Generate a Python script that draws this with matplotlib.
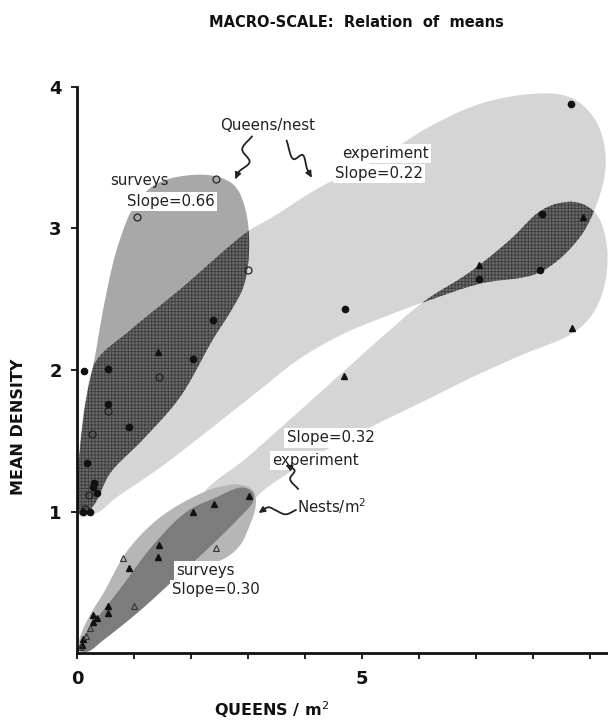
import numpy as np
import matplotlib
matplotlib.use("Agg")
import matplotlib.pyplot as plt
from matplotlib.patches import Polygon

plt.rcParams['font.family'] = ['DejaVu Sans']
plt.rcParams['hatch.linewidth'] = 0.6

# ---------------- data (queens per m2 vs mean density) ----------------
# Queens per nest, surveys (open circles)
qn_survey_x = [2.44, 1.05, 3.00, 1.44, 0.54, 0.26, 0.21, 0.14]
qn_survey_y = [3.35, 3.08, 2.71, 1.95, 1.71, 1.55, 1.12, 1.02]

# Queens per nest, experiment (filled circles)
qn_exp_x = [8.67, 4.70, 8.16, 7.05, 8.12, 2.39, 2.04, 0.12, 0.54, 0.54,
            0.91, 0.17, 0.28, 0.35, 0.30, 0.10, 0.23]
qn_exp_y = [3.88, 2.43, 3.10, 2.64, 2.71, 2.35, 2.08, 1.99, 2.01, 1.76,
            1.60, 1.34, 1.17, 1.13, 1.20, 1.00, 1.00]

# Nests per m2, experiment (filled triangles)
nest_exp_x = [3.02, 2.40, 2.03, 1.44, 1.42, 0.91, 0.54, 0.54, 0.28, 0.35,
              0.28, 0.11, 0.08, 4.68, 8.68, 7.05, 8.89, 1.42]
nest_exp_y = [1.11, 1.05, 1.00, 0.76, 0.68, 0.60, 0.33, 0.28, 0.27, 0.25,
              0.22, 0.10, 0.06, 1.96, 2.30, 2.74, 3.08, 2.13]

# Nests per m2, surveys (open triangles)
nest_survey_x = [0.81, 2.44, 1.00, 0.23, 0.15, 0.05]
nest_survey_y = [0.67, 0.74, 0.33, 0.18, 0.12, 0.04]

# Hand-drawn envelopes around each group (outline vertices, data units)
qn_exp_env_x = [0.04, 0.40, 0.63, 1.46, 2.33, 3.21, 3.91, 4.70, 5.49, 6.16,
                7.07, 8.12, 8.79, 9.12, 9.28, 9.18, 8.91, 8.56, 7.95, 7.07,
                6.19, 5.32, 4.26, 3.39, 3.00, 1.81, 0.93, 0.33, 0.15, 0.04,
                -0.01]
qn_exp_env_y = [0.97, 1.00, 1.08, 1.31, 1.58, 1.86, 2.08, 2.26, 2.39, 2.49,
                2.61, 2.69, 2.92, 3.17, 3.45, 3.70, 3.86, 3.94, 3.95, 3.88,
                3.72, 3.50, 3.29, 3.07, 2.98, 2.57, 2.28, 2.06, 1.79, 1.43,
                1.15]

qn_survey_env_x = [0.02, 0.00, 0.05, 0.16, 0.30, 0.49, 0.72, 1.02, 1.37, 1.84,
                   2.42, 2.77, 2.96, 3.02, 2.93, 2.72, 2.39, 1.81, 1.16, 0.58,
                   0.32, 0.14]
qn_survey_env_y = [0.99, 1.15, 1.43, 1.79, 2.06, 2.49, 2.88, 3.17, 3.31, 3.37,
                   3.37, 3.30, 3.13, 2.85, 2.60, 2.43, 2.22, 1.81, 1.51, 1.27,
                   1.06, 0.98]

nest_exp_env_x = [2.16, 3.04, 3.96, 4.68, 5.40, 6.11, 6.89, 7.60, 8.12, 8.47,
                  8.82, 9.12, 9.30, 9.26, 9.04, 8.70, 7.77, 6.89, 6.14, 5.32,
                  4.44, 3.74, 3.25, 2.86, 2.42]
nest_exp_env_y = [1.08, 1.40, 1.73, 1.99, 2.25, 2.49, 2.69, 2.92, 3.12, 3.18,
                  3.18, 3.10, 2.88, 2.60, 2.39, 2.26, 2.10, 1.94, 1.79, 1.63,
                  1.45, 1.28, 1.14, 0.98, 0.87]

nest_survey_env_x = [0.05, 0.04, 0.23, 0.46, 0.88, 1.40, 1.98, 2.46, 2.86, 3.09,
                     3.14, 3.00, 2.86, 2.60, 2.16, 1.63, 1.28, 0.88, 0.46, 0.19]
nest_survey_env_y = [0.01, 0.09, 0.27, 0.42, 0.72, 0.94, 1.09, 1.17, 1.19, 1.15,
                     1.05, 0.87, 0.76, 0.67, 0.61, 0.57, 0.43, 0.29, 0.15, 0.04]

nest_core_env_x = [0.05, 0.11, 0.40, 0.75, 1.33, 1.93, 2.39, 2.91, 3.09, 3.09,
                   2.81, 2.33, 1.63, 1.05, 0.46, 0.19]
nest_core_env_y = [0.02, 0.11, 0.27, 0.45, 0.76, 1.00, 1.09, 1.17, 1.13, 1.07,
                   0.94, 0.75, 0.49, 0.28, 0.09, 0.01]

X_MAX, Y_MAX = 9.32, 4.0
ASPECT = 141.5 / 57.0   # y-unit vs x-unit on screen, for even curve spacing


def _cr_segment(p0, p1, p2, p3, n):
    def knot(ti, a, b):
        d = np.linalg.norm(b - a)
        return ti + max(d, 1e-6) ** 0.5
    t0 = 0.0
    t1 = knot(t0, p0, p1)
    t2 = knot(t1, p1, p2)
    t3 = knot(t2, p2, p3)
    t = np.linspace(t1, t2, n, endpoint=False)[:, None]
    a1 = (t1 - t) / (t1 - t0) * p0 + (t - t0) / (t1 - t0) * p1
    a2 = (t2 - t) / (t2 - t1) * p1 + (t - t1) / (t2 - t1) * p2
    a3 = (t3 - t) / (t3 - t2) * p2 + (t - t2) / (t3 - t2) * p3
    b1 = (t2 - t) / (t2 - t0) * a1 + (t - t0) / (t2 - t0) * a2
    b2 = (t3 - t) / (t3 - t1) * a2 + (t - t1) / (t3 - t1) * a3
    return (t2 - t) / (t2 - t1) * b1 + (t - t1) / (t2 - t1) * b2


def smooth_curve(xs, ys, closed=True, n=14):
    p = np.column_stack([np.asarray(xs, float), np.asarray(ys, float) * ASPECT])
    m = len(p)
    segs = []
    if closed:
        for i in range(m):
            segs.append(_cr_segment(p[(i - 1) % m], p[i], p[(i + 1) % m], p[(i + 2) % m], n))
    else:
        q = np.vstack([2 * p[0] - p[1], p, 2 * p[-1] - p[-2]])
        for i in range(1, m):
            segs.append(_cr_segment(q[i - 1], q[i], q[i + 1], q[i + 2], n))
        segs.append(p[-1:])
    c = np.vstack(segs)
    c[:, 1] /= ASPECT
    return c


fig = plt.figure(figsize=(6.08, 7.23), dpi=100)
ax = fig.add_axes([0.1266, 0.0968, 0.8734, 0.7829])
ax.set_xlim(0, X_MAX)
ax.set_ylim(0, Y_MAX)

LIGHT = '#d5d5d5'
MEDIUM = '#a8a8a8'
MEDIUM2 = '#b6b6b6'
DARK = '#6a6a6a'
HATCH = '#3c3c3c'
NEST_DARK = '#7c7c7c'

qn_exp_shape = smooth_curve(qn_exp_env_x, qn_exp_env_y)
qn_survey_shape = smooth_curve(qn_survey_env_x, qn_survey_env_y)
nest_exp_shape = smooth_curve(nest_exp_env_x, nest_exp_env_y)
nest_survey_shape = smooth_curve(nest_survey_env_x, nest_survey_env_y)
nest_core_shape = smooth_curve(nest_core_env_x, nest_core_env_y)

# light experimental bands
p_qn_exp = Polygon(qn_exp_shape, closed=True, facecolor=LIGHT, edgecolor='none', zorder=1)
p_nest_exp = Polygon(nest_exp_shape, closed=True, facecolor=LIGHT, edgecolor='none', zorder=1)
ax.add_patch(p_qn_exp)
ax.add_patch(p_nest_exp)

# survey envelopes
p_qn_survey = Polygon(qn_survey_shape, closed=True, facecolor=MEDIUM, edgecolor='none', zorder=2)
p_nest_survey = Polygon(nest_survey_shape, closed=True, facecolor=MEDIUM2, edgecolor='none', zorder=2)
ax.add_patch(p_qn_survey)
ax.add_patch(p_nest_survey)

# overlaps: cross-hatched dark areas
ov1 = Polygon(qn_exp_shape, closed=True, facecolor=DARK, edgecolor=HATCH,
              linewidth=0, hatch='+++++', zorder=3)
ax.add_patch(ov1)
ov1.set_clip_path(p_qn_survey)
ov2 = Polygon(nest_exp_shape, closed=True, facecolor=DARK, edgecolor=HATCH,
              linewidth=0, hatch='+++++', zorder=3)
ax.add_patch(ov2)
ov2.set_clip_path(p_qn_exp)
ax.add_patch(Polygon(nest_core_shape, closed=True, facecolor=NEST_DARK,
                     edgecolor='none', zorder=3))

# points
ax.plot(qn_survey_x, qn_survey_y, 'o', ms=5, mfc='none', mec='#222222', mew=0.9, zorder=6, clip_on=False)
ax.plot(qn_exp_x, qn_exp_y, 'o', ms=4.5, mfc='#111111', mec='#111111', zorder=6, clip_on=False)
ax.plot(nest_exp_x, nest_exp_y, '^', ms=4.5, mfc='#111111', mec='#111111', zorder=6, clip_on=False)
ax.plot(nest_survey_x, nest_survey_y, '^', ms=5, mfc='none', mec='#333333', mew=0.8, zorder=6, clip_on=False)

# labels
lab_kw = dict(fontsize=10.8, color='#222222', zorder=5, va='center', ha='left')
box = dict(boxstyle='square,pad=0.15', facecolor='white', edgecolor='none')
ax.text(0.58, 3.34, 'surveys', **lab_kw)
ax.text(0.88, 3.19, 'Slope=0.66', bbox=box, **lab_kw)
ax.text(3.35, 3.73, 'Queens/nest', fontsize=10.8, color='#222222', ha='center', va='center', zorder=5)
ax.text(4.65, 3.53, 'experiment', bbox=box, **lab_kw)
ax.text(4.53, 3.39, 'Slope=0.22', bbox=box, **lab_kw)
ax.text(3.68, 1.52, 'Slope=0.32', bbox=box, **lab_kw)
ax.text(3.42, 1.36, 'experiment', bbox=box, **lab_kw)
ax.text(3.86, 1.04, r'Nests/m$^2$', **lab_kw)
ax.text(1.74, 0.58, 'surveys', bbox=box, **lab_kw)
ax.text(1.67, 0.45, 'Slope=0.30', bbox=box, **lab_kw)

# wavy pointer strokes
squiggles = [
    ([3.07, 2.90, 3.03, 2.84, 2.78], [3.65, 3.56, 3.47, 3.40, 3.35]),
    ([3.68, 3.80, 3.96, 4.04, 4.12], [3.62, 3.49, 3.52, 3.42, 3.36]),
    ([3.88, 3.74, 3.82, 3.66], [1.16, 1.23, 1.29, 1.33]),
    ([3.84, 3.66, 3.48, 3.36, 3.19], [1.01, 0.98, 1.01, 1.03, 0.99]),
]
for sx, sy in squiggles:
    c = smooth_curve(sx, sy, closed=False, n=10)
    ax.plot(c[:-2, 0], c[:-2, 1], color='#222222', lw=1.3, zorder=5)
    ax.annotate('', xy=(c[-1, 0], c[-1, 1]), xytext=(c[-4, 0], c[-4, 1]),
                arrowprops=dict(arrowstyle='-|>', color='#222222', lw=1.2,
                                mutation_scale=9, shrinkA=0, shrinkB=0),
                zorder=5)

# axes styling
for s in ('top', 'right'):
    ax.spines[s].set_visible(False)
for s in ('left', 'bottom'):
    ax.spines[s].set_linewidth(2.0)
    ax.spines[s].set_color('#111111')
ax.spines['left'].set_zorder(7)
ax.spines['bottom'].set_zorder(7)

ax.set_yticks([1, 2, 3, 4])
ax.set_yticklabels(['1', '2', '3', '4'])
ax.set_xticks(range(0, 10))
ax.set_xticklabels(['0', '', '', '', '', '5', '', '', '', ''])
ax.tick_params(axis='both', direction='out', length=4, width=1.3, color='#111111',
               labelsize=13, labelcolor='#111111')
ax.tick_params(axis='y', pad=7)
ax.tick_params(axis='x', pad=8)
for t in ax.get_xticklabels() + ax.get_yticklabels():
    t.set_fontweight('bold')

fig.text(0.587, 0.969, 'MACRO-SCALE:  Relation  of  means', fontsize=10.5,
         fontweight='bold', ha='center', va='center', color='#111111')
fig.text(0.030, 0.409, 'MEAN DENSITY', rotation=90, fontsize=11.5,
         fontweight='bold', ha='center', va='center', color='#111111')
fig.text(0.446, 0.018, r'QUEENS / m$^2$', fontsize=11.5,
         fontweight='bold', ha='center', va='center', color='#111111')

fig.savefig('out.png', dpi=100)
